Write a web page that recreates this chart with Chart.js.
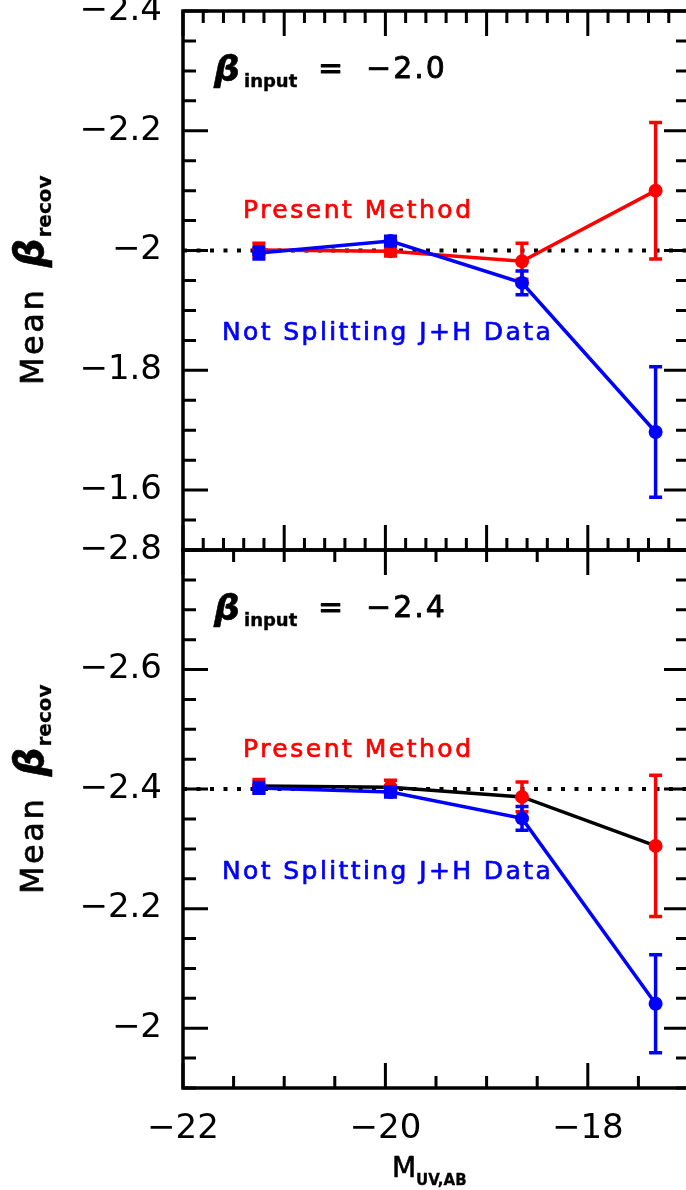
<!DOCTYPE html>
<html>
<head>
<meta charset="utf-8">
<script src="https://cdn.jsdelivr.net/npm/chart.js@4.4.1/dist/chart.umd.min.js"></script>
<style>
  html, body { margin: 0; padding: 0; background: #fff; overflow: hidden; width: 686px; height: 1190px; }
  canvas { position: absolute; left: 0; }
  #topPanel { top: 0; }
  #bottomPanel { top: 500px; }
</style>
</head>
<body>
<canvas id="topPanel" width="700" height="600"></canvas>
<canvas id="bottomPanel" width="700" height="690"></canvas>
<script>
// magnitude bins (M_UV,AB)
const magBins = [-21.25, -19.95, -18.65, -17.33];

// beta_input = -2.0
const presentTop = [-2.001, -1.999, -1.982, -2.100];
const presentTopErr = [0.011, 0.008, 0.030, 0.114];
const noSplitTop = [-1.996, -2.016, -1.946, -1.697];
const noSplitTopErr = [0.010, 0.008, 0.020, 0.109];

// beta_input = -2.4
const presentBot = [-2.405, -2.403, -2.387, -2.305];
const presentBotErr = [0.011, 0.012, 0.025, 0.118];
const noSplitBot = [-2.402, -2.395, -2.351, -2.041];
const noSplitBotErr = [0.009, 0.008, 0.020, 0.082];

const inputBetas = [-2.0, -2.4];
const topYTicks = [-2.4, -2.2, -2.0, -1.8, -1.6];
const bottomYTicks = [-2.8, -2.6, -2.4, -2.2, -2.0];
const bottomXTicks = [-22, -20, -18];

const RED = '#ff0000';
const BLUE = '#0000ff';
const FONT = "'DejaVu Sans', sans-serif";

Chart.defaults.font.family = FONT;
Chart.defaults.color = '#000';

const points = ys => magBins.map((x, i) => ({ x, y: ys[i] }));
const fmt = v => (v < 0 ? '\u2212' : '') + Math.abs(v).toFixed(1).replace(/\.0$/, '');

function tickRun(from, to, step) {
  const out = [];
  const n = Math.round((to - from) / step);
  for (let i = 0; i <= n; i++) out.push(from + i * step);
  return out;
}
const isMajor = (v, step) => Math.abs(v / step - Math.round(v / step)) < 1e-6;

// text with a slight outline so the strokes come out heavier
function heavyText(ctx, s, x, y, color, weight) {
  ctx.fillStyle = color;
  ctx.strokeStyle = color;
  ctx.lineWidth = weight;
  ctx.lineJoin = 'round';
  ctx.fillText(s, x, y);
  ctx.strokeText(s, x, y);
}

// error bars, inward ticks, frame and the text labels
const panelDecor = {
  id: 'panelDecor',
  afterDatasetDraw(chart, args) {
    const ds = chart.data.datasets[args.index];
    if (!ds.errors) return;
    const { ctx, scales: { x, y } } = chart;
    ctx.save();
    ctx.strokeStyle = ds.errorColor;
    ctx.lineWidth = 3.5;
    ds.data.forEach((p, i) => {
      const px = x.getPixelForValue(p.x);
      const y0 = y.getPixelForValue(p.y - ds.errors[i]);
      const y1 = y.getPixelForValue(p.y + ds.errors[i]);
      ctx.beginPath();
      ctx.moveTo(px, y0); ctx.lineTo(px, y1);
      ctx.moveTo(px - 6.5, y0); ctx.lineTo(px + 6.5, y0);
      ctx.moveTo(px - 6.5, y1); ctx.lineTo(px + 6.5, y1);
      ctx.stroke();
    });
    ctx.restore();
  },
  afterDraw(chart, args, o) {
    const { ctx, chartArea: a, scales: { x, y } } = chart;
    ctx.save();
    ctx.strokeStyle = '#000';
    ctx.lineWidth = 3;
    ctx.beginPath();
    tickRun(x.min, x.max, o.xMinor).forEach(v => {
      const px = x.getPixelForValue(v);
      const len = isMajor(v, o.xMajor) ? 25 : 12;
      ctx.moveTo(px, a.top); ctx.lineTo(px, a.top + len);
      ctx.moveTo(px, a.bottom); ctx.lineTo(px, a.bottom - len);
    });
    tickRun(y.min, y.max, 0.05).forEach(v => {
      const py = y.getPixelForValue(v);
      const len = isMajor(v, 0.2) ? 25 : 13;
      ctx.moveTo(a.left, py); ctx.lineTo(a.left + len, py);
      ctx.moveTo(a.right, py); ctx.lineTo(a.right - len, py);
    });
    ctx.stroke();
    ctx.lineWidth = 3.5;
    ctx.strokeRect(a.left, a.top, a.right - a.left, a.bottom - a.top);

    const t = a.top;
    ctx.textBaseline = 'alphabetic';
    ctx.textAlign = 'left';

    // beta_input = ...
    ctx.font = 'bold italic 36px ' + FONT;
    heavyText(ctx, '\u03b2', 214, t + 70, '#000', 0.6);
    ctx.font = 'bold 18px ' + FONT;
    heavyText(ctx, 'input', 244, t + 76, '#000', 0.4);
    ctx.font = '30px ' + FONT;
    ctx.letterSpacing = '2px';
    heavyText(ctx, '=', 318, t + 67, '#000', 0.8);
    heavyText(ctx, o.inputText, 366, t + 67, '#000', 0.8);

    // series labels
    ctx.font = '25px ' + FONT;
    ctx.letterSpacing = '2.5px';
    heavyText(ctx, 'Present Method', 243, t + 207, RED, 0.7);
    ctx.letterSpacing = '2.4px';
    heavyText(ctx, 'Not Splitting J+H Data', 222, t + 329, BLUE, 0.7);

    // y title, rotated
    ctx.save();
    ctx.translate(43, t + o.titleBase);
    ctx.rotate(-Math.PI / 2);
    ctx.font = '32px ' + FONT;
    ctx.letterSpacing = '2.5px';
    heavyText(ctx, 'Mean', 0, 0, '#000', 0.7);
    let w = ctx.measureText('Mean ').width + 8;
    ctx.letterSpacing = '0px';
    ctx.font = 'bold italic 40px ' + FONT;
    heavyText(ctx, '\u03b2', w, 0, '#000', 0.6);
    w += ctx.measureText('\u03b2').width + 1;
    ctx.font = 'bold 20px ' + FONT;
    heavyText(ctx, 'recov', w, 8, '#000', 0.3);
    ctx.restore();

    // x title
    if (o.xTitle) {
      ctx.letterSpacing = '0px';
      ctx.font = '28px ' + FONT;
      heavyText(ctx, 'M', 392, a.bottom + 89, '#000', 0.6);
      ctx.font = 'bold 15px ' + FONT;
      heavyText(ctx, 'UV,AB', 416, a.bottom + 97, '#000', 0.3);
    }
    ctx.restore();
  }
};

function makePanel(id, cfg) {
  return new Chart(document.getElementById(id), {
    type: 'line',
    data: {
      datasets: [
        {
          label: 'Not Splitting J+H Data',
          data: points(cfg.blue), errors: cfg.blueErr, errorColor: BLUE,
          borderColor: BLUE, borderWidth: 3.5,
          pointBackgroundColor: BLUE, pointBorderWidth: 0, pointRadius: 7,
          order: 0
        },
        {
          label: 'Present Method',
          data: points(cfg.red), errors: cfg.redErr, errorColor: RED,
          borderColor: cfg.redLine, borderWidth: 3.5,
          pointBackgroundColor: RED, pointBorderWidth: 0, pointRadius: 7,
          order: 1
        },
        {
          label: 'input',
          data: [{ x: -22, y: cfg.input }, { x: -17, y: cfg.input }],
          borderColor: '#000', borderWidth: 4, borderDash: [4, 9.5],
          pointRadius: 0, order: 2
        }
      ]
    },
    options: {
      responsive: false,
      animation: false,
      devicePixelRatio: 1,
      layout: { padding: cfg.padding },
      plugins: {
        legend: { display: false },
        tooltip: { enabled: false },
        panelDecor: {
          inputText: fmt(cfg.input) + (Number.isInteger(cfg.input) ? '.0' : ''),
          xMinor: cfg.xMinor, xMajor: cfg.xMajor, xTitle: cfg.showX,
          titleBase: cfg.titleBase
        }
      },
      scales: {
        x: {
          type: 'linear', min: -22, max: -17,
          display: cfg.showX,
          grid: { display: false, drawTicks: false, tickLength: 0 },
          border: { display: false },
          ticks: { font: { size: 34 }, padding: 21, autoSkip: false, maxRotation: 0, callback: v => fmt(v) },
          afterBuildTicks: s => { s.ticks = bottomXTicks.map(v => ({ value: v })); },
          afterFit: s => { s.height = cfg.showX ? 102 : 0; s.paddingLeft = 0; s.paddingRight = 0; }
        },
        y: {
          type: 'linear', reverse: true, min: cfg.yMin, max: cfg.yMin + 0.9,
          grid: { display: false, drawTicks: false, tickLength: 0 },
          border: { display: false },
          ticks: { font: { size: 34 }, padding: 21, callback: v => fmt(v) },
          afterBuildTicks: s => { s.ticks = cfg.yTicks.map(v => ({ value: v })); },
          afterFit: s => { s.width = 183; s.paddingTop = 0; s.paddingBottom = 0; }
        }
      }
    },
    plugins: [panelDecor]
  });
}

makePanel('topPanel', {
  red: presentTop, redErr: presentTopErr, redLine: RED,
  blue: noSplitTop, blueErr: noSplitTopErr,
  input: inputBetas[0], yMin: -2.4, yTicks: topYTicks,
  xMinor: 0.2, xMajor: 1, showX: false, titleBase: 374,
  padding: { top: 11, left: 0, right: 11, bottom: 50 }
});

makePanel('bottomPanel', {
  red: presentBot, redErr: presentBotErr, redLine: '#000',
  blue: noSplitBot, blueErr: noSplitBotErr,
  input: inputBetas[1], yMin: -2.8, yTicks: bottomYTicks,
  xMinor: 0.5, xMajor: 2, showX: true, titleBase: 344,
  padding: { top: 50, left: 0, right: 11, bottom: 0 }
});
</script>
</body>
</html>
